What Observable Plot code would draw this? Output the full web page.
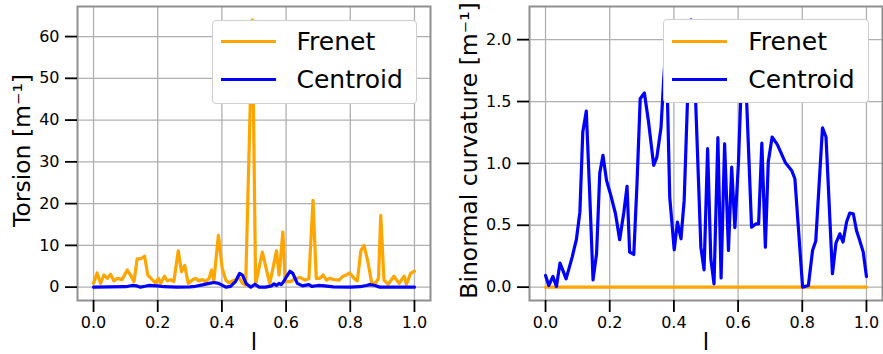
<!DOCTYPE html>
<html><head><meta charset="utf-8">
<script src="https://cdn.jsdelivr.net/npm/d3@7"></script>
<script src="https://cdn.jsdelivr.net/npm/@observablehq/plot@0.6"></script>
<style>
body{margin:0;background:#fff;font-family:"DejaVu Sans",sans-serif;}
#fig{position:relative;width:883px;height:354px;overflow:hidden;background:#fff;}
.panel{position:absolute;top:0;}
.legend{position:absolute;background:#fff;border:1px solid #cfcfcf;border-radius:4px;box-sizing:border-box;}
.legend .sw{position:absolute;height:3px;width:55px;}
.legend .lab{position:absolute;font-size:25px;line-height:25px;white-space:nowrap;color:#000;font-family:"DejaVu Sans",sans-serif;}
</style></head>
<body>
<div id="fig"></div>
<script>
// ---- data ----
const xTicks = [0, 0.2, 0.4, 0.6, 0.8, 1.0];
const torsionTicks = [0, 10, 20, 30, 40, 50, 60];
const binormalTicks = [0, 0.5, 1.0, 1.5, 2.0];
const seriesNames = ["Frenet", "Centroid"];
const seriesColors = ["#ffa500", "#0000ff"];

const torsionFrenetL = [0,0.011,0.022,0.032,0.043,0.053,0.063,0.074,0.089,0.105,0.115,0.126,0.136,0.147,0.159,0.169,0.183,0.193,0.202,0.209,0.221,0.230,0.240,0.250,0.264,0.274,0.284,0.295,0.308,0.318,0.328,0.339,0.349,0.360,0.368,0.375,0.389,0.401,0.412,0.422,0.433,0.443,0.453,0.464,0.474,0.495,0.505,0.526,0.539,0.549,0.559,0.570,0.578,0.590,0.597,0.614,0.630,0.645,0.659,0.671,0.684,0.694,0.705,0.715,0.726,0.736,0.750,0.765,0.777,0.788,0.798,0.812,0.822,0.833,0.843,0.855,0.867,0.879,0.888,0.895,0.905,0.918,0.936,0.952,0.968,0.975,0.988,1.0];
const torsionFrenet = [0.9,3.4,0.9,2.9,2.1,3.1,1.5,2.1,1.8,4.1,2.9,1.3,6.8,6.8,7.4,2.9,1.8,1.0,2.1,0.9,2.6,1.5,1.8,1.3,8.7,3.7,5.2,0.9,1.7,2.1,1.5,1.8,1.3,2.1,4.1,1.5,12.4,4.5,1.7,1.0,1.5,1.8,2.3,0.9,0.5,64.0,0.7,8.4,4.1,0.9,4.5,8.7,2.9,13.2,1.3,1.3,2.1,2.3,1.7,2.0,20.8,2.1,2.1,2.9,1.7,2.1,1.8,1.7,2.6,2.9,3.4,2.1,1.5,8.7,10.0,6.0,0.9,1.0,2.1,17.2,1.7,0.7,2.6,0.9,2.6,0.7,3.3,3.8];

const torsionCentroidL = [0,0.05,0.1,0.12,0.135,0.146,0.16,0.172,0.198,0.22,0.26,0.30,0.318,0.343,0.36,0.375,0.39,0.412,0.427,0.443,0.455,0.464,0.476,0.49,0.503,0.516,0.536,0.555,0.562,0.57,0.578,0.585,0.593,0.602,0.612,0.621,0.635,0.651,0.671,0.680,0.70,0.72,0.747,0.80,0.83,0.85,0.861,0.877,0.892,0.95,1.0];
const torsionCentroid = [0,0.05,0.1,0.4,0.3,0,0.2,0.4,0.3,0.1,0,0.05,0.2,0.6,0.9,1.1,0.9,0,0.2,1.4,3.3,2.9,0.8,0,0.7,0,0,0.3,0.8,0.4,0.9,0.6,1.4,2.6,3.8,3.3,0.9,0.3,0.6,0.2,0.4,0.3,0.05,0,0.1,0.4,0.6,0.4,0,0,0];

const binormalFrenetL = [0, 0.25, 0.5, 0.75, 1.0];
const binormalFrenet = [0, 0, 0, 0, 0];

const binormalCentroidL = [0,0.010,0.023,0.034,0.045,0.054,0.064,0.083,0.096,0.107,0.116,0.127,0.138,0.148,0.159,0.169,0.179,0.190,0.202,0.218,0.231,0.244,0.254,0.262,0.275,0.285,0.295,0.308,0.321,0.337,0.347,0.360,0.368,0.374,0.380,0.387,0.401,0.411,0.422,0.432,0.442,0.453,0.468,0.484,0.494,0.505,0.515,0.525,0.537,0.547,0.558,0.570,0.580,0.590,0.601,0.608,0.617,0.627,0.642,0.656,0.664,0.674,0.685,0.694,0.706,0.722,0.736,0.748,0.767,0.777,0.801,0.819,0.832,0.842,0.863,0.874,0.894,0.905,0.917,0.927,0.938,0.948,0.959,0.969,0.979,0.990,1.0];
const binormalCentroid = [0.094,0.013,0.086,0.005,0.194,0.135,0.067,0.243,0.383,0.606,1.253,1.423,0.728,0.059,0.270,0.922,1.065,0.863,0.755,0.593,0.383,0.606,0.814,0.283,0.264,0.836,1.523,1.569,1.334,0.984,1.051,1.294,1.671,1.90,1.51,0.728,0.302,0.526,0.391,0.701,1.482,2.16,1.482,0.323,0.140,1.119,0.229,0.027,1.208,0.075,1.159,0.296,0.970,0.480,0.997,1.509,1.90,1.48,0.485,0.512,0.512,1.164,0.323,1.011,1.213,1.154,1.073,1.003,0.943,0.876,0.0,0.013,0.296,0.372,1.288,1.213,0.108,0.356,0.431,0.364,0.526,0.598,0.593,0.458,0.377,0.283,0.086];

// ---- build ----
const toRows = (ls, vs) => ls.map((l, i) => ({l, v: vs[i]}));
const fmt1 = d3.format(".1f");
const fmt0 = d3.format("d");

function panel({width, marginLeft, marginRight, yDomain, yTicks, yFmt, ylabel, labelDx, frenet, centroid}) {
  return Plot.plot({
    width, height: 354, marginLeft, marginRight, marginTop: 6, marginBottom: 54,
    style: {fontFamily: "DejaVu Sans", fontSize: "16px", color: "#000", background: "transparent", overflow: "visible"},
    x: {domain: [-0.05, 1.05]},
    y: {domain: yDomain},
    marks: [
      Plot.gridX(xTicks, {stroke: "#b0b0b0", strokeOpacity: 1, strokeWidth: 1.3}),
      Plot.gridY(yTicks, {stroke: "#b0b0b0", strokeOpacity: 1, strokeWidth: 1.3}),
      Plot.line(frenet, {x: "l", y: "v", stroke: seriesColors[0], strokeWidth: 3.2, clip: true}),
      Plot.line(centroid, {x: "l", y: "v", stroke: seriesColors[1], strokeWidth: 3.2, clip: true}),
      Plot.frame({stroke: "#8f8f8f", strokeWidth: 2}),
      Plot.axisX(xTicks, {tickSize: 12, tickPadding: 4, tickFormat: fmt1, strokeWidth: 1.8, label: null, fontSize: 16}),
      Plot.axisY(yTicks, {tickSize: 12, tickPadding: 6, tickFormat: yFmt, strokeWidth: 1.8, label: null, fontSize: 16}),
      Plot.text([ylabel], {frameAnchor: "left", textAnchor: "middle", dx: labelDx, dy: -3, rotate: -90, fontSize: 23.5, fill: "#000"}),
      Plot.text(["l"], {frameAnchor: "bottom", dy: 49, fontSize: 23, fill: "#000"})
    ]
  });
}

const fig = document.getElementById("fig");

const left = panel({
  width: 450, marginLeft: 77, marginRight: 20,
  yDomain: [-3.2, 67.2], yTicks: torsionTicks, yFmt: fmt0,
  ylabel: "Torsion [m⁻¹]", labelDx: -55,
  frenet: toRows(torsionFrenetL, torsionFrenet),
  centroid: toRows(torsionCentroidL, torsionCentroid)
});
left.classList.add("panel"); left.style.left = "0px";
fig.appendChild(left);

const right = panel({
  width: 433, marginLeft: 79, marginRight: 1,
  yDomain: [-0.108, 2.268], yTicks: binormalTicks, yFmt: fmt1,
  ylabel: "Binormal curvature [m⁻¹]", labelDx: -60,
  frenet: toRows(binormalFrenetL, binormalFrenet),
  centroid: toRows(binormalCentroidL, binormalCentroid)
});
right.classList.add("panel"); right.style.left = "450px";
fig.appendChild(right);

function legend(x, y, w, h) {
  const box = document.createElement("div");
  box.className = "legend";
  Object.assign(box.style, {left: x + "px", top: y + "px", width: w + "px", height: h + "px"});
  seriesNames.forEach((name, i) => {
    const cy = 21 + i * 38.2;
    const sw = document.createElement("div");
    sw.className = "sw";
    Object.assign(sw.style, {left: "8px", top: (cy - 1.5) + "px", background: seriesColors[i]});
    const lab = document.createElement("div");
    lab.className = "lab";
    lab.textContent = name;
    Object.assign(lab.style, {left: "84px", top: (cy - 12.5) + "px"});
    box.appendChild(sw); box.appendChild(lab);
  });
  fig.appendChild(box);
}
legend(211.5, 19.5, 205, 84);
legend(663.3, 19.3, 206, 84);
</script>
</body></html>
